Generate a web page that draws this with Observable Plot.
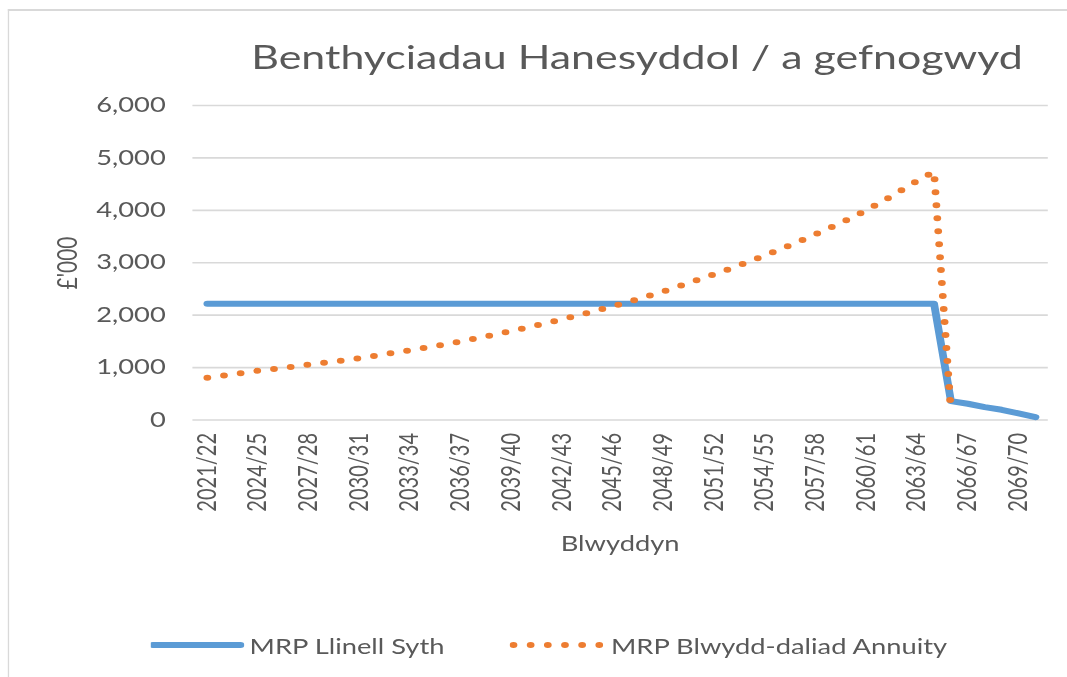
<!DOCTYPE html>
<html>
<head>
<meta charset="utf-8">
<script src="https://cdn.jsdelivr.net/npm/d3@7"></script>
<script src="https://cdn.jsdelivr.net/npm/@observablehq/plot@0.6"></script>
<style>
  html, body { margin: 0; padding: 0; background: #fff; width: 1067px; height: 677px; overflow: hidden; }
  #wrap { position: absolute; left: 0; top: 0; width: 821px; height: 677px; transform: scaleX(1.3); transform-origin: 0 0; font-family: Lato, "Open Sans", sans-serif; color: #595959; }
  #frame { position: absolute; left: 6px; top: 9px; width: 900px; height: 800px; border-left: 1.6px solid #D9D9D9; border-top: 2px solid #D9D9D9; }
  #title { position: absolute; left: 0; width: 980px; text-align: center; top: 34px; font-size: 33px; line-height: 44px; white-space: nowrap; }
  #chart { position: absolute; left: 0; top: 0; }
  #ylabel { position: absolute; left: 51px; top: 263px; font-size: 21px; transform: translate(-50%, -50%) rotate(-90deg); white-space: nowrap; }
  #xlabel { position: absolute; left: 477px; top: 542px; font-size: 21px; transform: translate(-50%, -50%); white-space: nowrap; }
  .leg { position: absolute; top: 630px; height: 30px; display: flex; align-items: center; font-size: 21px; white-space: nowrap; }
</style>
</head>
<body>
<div id="wrap">
  <div id="frame"></div>
  <div id="title">Benthyciadau Hanesyddol / a gefnogwyd</div>
  <div id="chart"></div>
  <div id="ylabel">£'000</div>
  <div id="xlabel">Blwyddyn</div>
  <div class="leg" style="left:116px">
    <svg width="72" height="30"><line x1="1.5" y1="15" x2="69" y2="15" stroke="#5B9BD5" stroke-width="6" stroke-linecap="round"/></svg>
    <span style="margin-left:4px">MRP Llinell Syth</span>
  </div>
  <div class="leg" style="left:392px">
    <svg width="72" height="30"><line x1="3" y1="15" x2="69" y2="15" stroke="#ED7D31" stroke-width="6" stroke-linecap="round" stroke-dasharray="0 13.2"/></svg>
    <span style="margin-left:6px">MRP Blwydd-daliad Annuity</span>
  </div>
</div>
<script>
const years = ["2021/22","2022/23","2023/24","2024/25","2025/26","2026/27","2027/28","2028/29","2029/30","2030/31",
  "2031/32","2032/33","2033/34","2034/35","2035/36","2036/37","2037/38","2038/39","2039/40","2040/41",
  "2041/42","2042/43","2043/44","2044/45","2045/46","2046/47","2047/48","2048/49","2049/50","2050/51",
  "2051/52","2052/53","2053/54","2054/55","2055/56","2056/57","2057/58","2058/59","2059/60","2060/61",
  "2061/62","2062/63","2063/64","2064/65","2065/66","2066/67","2067/68","2068/69","2069/70","2070/71"];

const straightLine = [2220,2220,2220,2220,2220,2220,2220,2220,2220,2220,
  2220,2220,2220,2220,2220,2220,2220,2220,2220,2220,
  2220,2220,2220,2220,2220,2220,2220,2220,2220,2220,
  2220,2220,2220,2220,2220,2220,2220,2220,2220,2220,
  2220,2220,2220,2220,360,310,245,195,125,55];

const annuity = [807,850,895,940,975,1015,1055,1095,1135,1180,
  1230,1280,1330,1385,1440,1500,1565,1630,1700,1770,
  1845,1920,2000,2085,2170,2260,2355,2455,2560,2670,
  2780,2895,3015,3140,3270,3405,3545,3690,3840,4000,
  4180,4370,4560,4740,150];

const yTicks = [0,1000,2000,3000,4000,5000,6000];
const xTickLabels = years.filter((d, i) => i % 3 === 0);

const seriesNames = ["MRP Llinell Syth", "MRP Blwydd-daliad Annuity"];
const blueRows = straightLine.map((v, i) => ({year: years[i], value: v}));
const orangeRows = annuity.map((v, i) => ({year: years[i], value: v}));

const chart = Plot.plot({
  width: 821,
  height: 560,
  marginTop: 105,
  marginBottom: 140.5,
  marginLeft: 148,
  marginRight: 15,
  style: {fontFamily: "Lato, 'Open Sans', sans-serif", fontSize: "21px", color: "#595959", background: "transparent", overflow: "visible"},
  x: {type: "point", domain: years, padding: 0.5},
  y: {domain: [0, 6000]},
  marks: [
    Plot.gridY(yTicks, {stroke: "#D9D9D9", strokeOpacity: 1, strokeWidth: 1.6}),
    Plot.axisY(yTicks, {tickSize: 0, tickPadding: 21, tickFormat: d3.format(","), label: null, fontSize: 21}),
    Plot.axisX(xTickLabels, {tickSize: 0, tickPadding: 13, tickRotate: -90, label: null, fontSize: 20}),
    Plot.line(blueRows, {x: "year", y: "value", stroke: "#5B9BD5", strokeWidth: 6, strokeLinecap: "round", strokeLinejoin: "round"}),
    Plot.line(orangeRows, {x: "year", y: "value", stroke: "#ED7D31", strokeWidth: 6, strokeLinecap: "round", strokeDasharray: "0 13"})
  ]
});
document.getElementById("chart").appendChild(chart);
</script>
</body>
</html>
